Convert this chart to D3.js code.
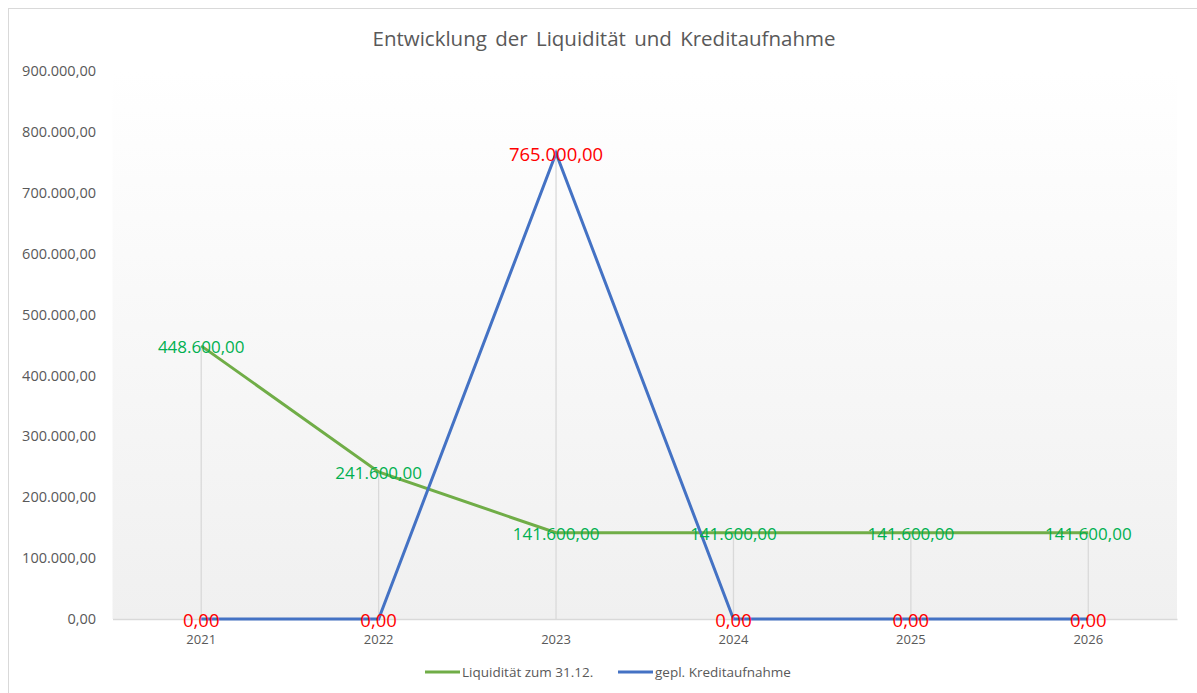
<!DOCTYPE html>
<html><head><meta charset="utf-8">
<script src="https://cdn.jsdelivr.net/npm/d3@7"></script>
<style>html,body{margin:0;padding:0;background:#fff;overflow:hidden}</style>
</head><body>
<svg id="chart" width="1197" height="693"></svg>
<script>
const years = ["2021","2022","2023","2024","2025","2026"];
const liquiditaet = [448600, 241600, 141600, 141600, 141600, 141600];
const kredit = [0, 0, 765000, 0, 0, 0];
const yTicks = [0,100000,200000,300000,400000,500000,600000,700000,800000,900000];
const seriesNames = ["Liquidität zum 31.12.", "gepl. Kreditaufnahme"];
const titleText = "Entwicklung der Liquidität und Kreditaufnahme";

const svg = d3.select("#chart");
const font = "'Open Sans', sans-serif";
const m = {left:112.5, right:1177, top:71, bottom:619};

const x = d3.scaleBand().domain(years).range([m.left, m.right]);
const xc = d => x(d) + x.bandwidth()/2;
const y = d3.scaleLinear().domain([0,900000]).range([m.bottom, m.top]);
const fmt = v => d3.formatLocale({decimal:",",thousands:".",grouping:[3],currency:["","€"]}).format(",.2f")(v);

// chart border
svg.append("rect").attr("x",8.5).attr("y",8.5).attr("width",1300).attr("height",800)
  .attr("fill","#fff").attr("stroke","#d9d9d9").attr("stroke-width",1);

// gradient plot area
const defs = svg.append("defs");
const g = defs.append("linearGradient").attr("id","pa").attr("x1",0).attr("y1",0).attr("x2",0).attr("y2",1);
g.append("stop").attr("offset","0%").attr("stop-color","#ffffff");
g.append("stop").attr("offset","100%").attr("stop-color","#f0f0f0");
svg.append("rect").attr("x",m.left).attr("y",m.top).attr("width",m.right-m.left).attr("height",m.bottom-m.top).attr("fill","url(#pa)");

// title
svg.append("text").attr("x",604).attr("y",46).attr("text-anchor","middle")
  .attr("font-family",font).attr("font-size",20.5).attr("fill","#595959").attr("word-spacing",3).text(titleText);

// y axis labels
const ya = svg.append("g").attr("transform",`translate(96,0)`)
  .call(d3.axisLeft(y).tickValues(yTicks).tickSize(0).tickPadding(0).tickFormat(fmt));
ya.select(".domain").remove();
ya.selectAll("text").attr("font-family",font).attr("font-size",14.5).attr("fill","#595959");

// drop lines
svg.append("g").selectAll("line").data(years).join("line")
  .attr("x1",d=>xc(d)).attr("x2",d=>xc(d))
  .attr("y1",(d,i)=>y(Math.max(liquiditaet[i],kredit[i]))).attr("y2",y(0))
  .attr("stroke","#d9d9d9").attr("stroke-width",1.3);

// x axis
const xa = svg.append("g").attr("transform",`translate(0,${y(0)})`)
  .call(d3.axisBottom(x).tickSize(0).tickPadding(16));
xa.select(".domain").attr("stroke","#d9d9d9").attr("stroke-width",1.3);
xa.selectAll("text").attr("font-family",font).attr("font-size",13).attr("fill","#595959");

const line = d3.line().x((d,i)=>xc(years[i])).y(d=>y(d));
svg.append("path").datum(liquiditaet).attr("d",line).attr("fill","none").attr("stroke","#70AD47").attr("stroke-width",3);
svg.append("path").datum(kredit).attr("d",line).attr("fill","none").attr("stroke","#4472C4").attr("stroke-width",3);

// data labels
svg.append("g").selectAll("text").data(liquiditaet).join("text")
  .attr("x",(d,i)=>xc(years[i])).attr("y",d=>y(d)+1).attr("dy","0.35em").attr("text-anchor","middle")
  .attr("font-family",font).attr("font-size",17).attr("fill","#00B050").text(fmt);
svg.append("g").selectAll("text").data(kredit).join("text")
  .attr("x",(d,i)=>xc(years[i])).attr("y",d=>y(d)+1.5).attr("dy","0.35em").attr("text-anchor","middle")
  .attr("font-family",font).attr("font-size",18.5).attr("fill","#FF0000").text(fmt);

// legend
const legend = [{name:seriesNames[0],color:"#70AD47",x:425},{name:seriesNames[1],color:"#4472C4",x:618}];
const lg = svg.append("g").selectAll("g").data(legend).join("g").attr("transform",d=>`translate(${d.x},672)`);
lg.append("line").attr("x1",0).attr("x2",35).attr("stroke",d=>d.color).attr("stroke-width",3);
lg.append("text").attr("x",37).attr("dy","0.35em").attr("font-family",font).attr("font-size",13.5).attr("fill","#595959").text(d=>d.name);
</script>
</body></html>
